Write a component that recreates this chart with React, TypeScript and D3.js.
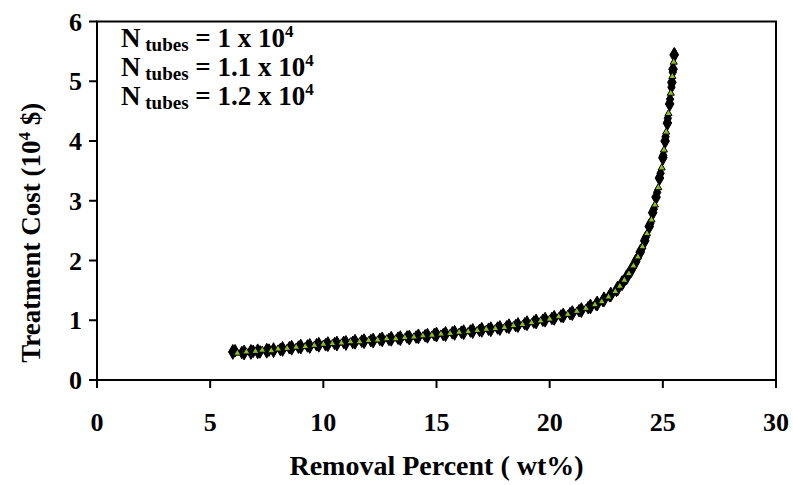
import React from "react";
import * as d3 from "d3";

const xTicks = [0, 5, 10, 15, 20, 25, 30];
const yTicks = [0, 1, 2, 3, 4, 5, 6];

const s1x = [6.0, 6.5, 6.8, 7.1, 7.5, 7.8, 8.2, 8.6, 9.0, 9.4, 9.8, 10.2, 10.6, 11.0, 11.4, 11.8, 12.2, 12.6, 13.0, 13.4, 13.8, 14.2, 14.6, 15.0, 15.4, 15.8, 16.2, 16.6, 17.0, 17.4, 17.8, 18.2, 18.6, 19.0, 19.4, 19.8, 20.2, 20.6, 21.0, 21.4, 21.8, 22.1, 22.4, 22.7, 23.0, 23.2, 23.4, 23.6, 23.8, 24.0, 24.2, 24.4, 24.55, 24.7, 24.85, 25.0, 25.1, 25.2, 25.3, 25.4, 25.45, 25.5];
const s1y = [0.47, 0.46, 0.47, 0.48, 0.49, 0.5, 0.52, 0.54, 0.56, 0.57, 0.59, 0.6, 0.61, 0.62, 0.64, 0.65, 0.66, 0.68, 0.69, 0.7, 0.71, 0.73, 0.74, 0.76, 0.77, 0.79, 0.8, 0.82, 0.84, 0.85, 0.87, 0.9, 0.92, 0.95, 0.98, 1.01, 1.04, 1.08, 1.12, 1.17, 1.23, 1.28, 1.35, 1.43, 1.53, 1.62, 1.72, 1.84, 1.98, 2.14, 2.33, 2.57, 2.8, 3.06, 3.38, 3.72, 4.0, 4.3, 4.62, 4.98, 5.2, 5.44];

const s2x = [6.2, 6.6, 7.0, 7.3, 7.7, 8.0, 8.4, 8.8, 9.2, 9.6, 10.0, 10.4, 10.8, 11.2, 11.6, 12.0, 12.4, 12.8, 13.2, 13.6, 14.0, 14.4, 14.8, 15.2, 15.6, 16.0, 16.4, 16.8, 17.2, 17.6, 18.0, 18.4, 18.8, 19.2, 19.6, 20.0, 20.4, 20.8, 21.2, 21.6, 22.0, 22.3, 22.6, 22.9, 23.1, 23.3, 23.5, 23.7, 23.9, 24.1, 24.3, 24.5, 24.65, 24.8, 24.95, 25.05, 25.15, 25.25, 25.35, 25.42, 25.48];
const s2y = [0.45, 0.47, 0.48, 0.5, 0.49, 0.52, 0.53, 0.55, 0.56, 0.58, 0.6, 0.61, 0.62, 0.64, 0.64, 0.66, 0.67, 0.69, 0.69, 0.71, 0.72, 0.74, 0.75, 0.77, 0.78, 0.8, 0.81, 0.83, 0.85, 0.86, 0.88, 0.91, 0.93, 0.96, 0.99, 1.02, 1.06, 1.1, 1.15, 1.2, 1.26, 1.31, 1.39, 1.48, 1.57, 1.67, 1.78, 1.91, 2.06, 2.23, 2.45, 2.68, 2.93, 3.22, 3.55, 3.85, 4.15, 4.46, 4.8, 5.08, 5.32];

const s3x = [6.1, 6.4, 6.9, 7.2, 7.6, 8.1, 8.5, 8.9, 9.3, 9.7, 10.1, 10.5, 10.9, 11.3, 11.7, 12.1, 12.5, 12.9, 13.3, 13.7, 14.1, 14.5, 14.9, 15.3, 15.7, 16.1, 16.5, 16.9, 17.3, 17.7, 18.1, 18.5, 18.9, 19.3, 19.7, 20.1, 20.5, 20.9, 21.3, 21.7, 22.05, 22.35, 22.65, 22.95, 23.25, 23.45, 23.65, 23.85, 24.05, 24.25, 24.45, 24.6, 24.75, 24.9, 25.02, 25.12, 25.22, 25.32, 25.38, 25.44, 25.52];
const s3y = [0.49, 0.46, 0.48, 0.47, 0.5, 0.51, 0.54, 0.55, 0.57, 0.59, 0.59, 0.61, 0.63, 0.63, 0.65, 0.66, 0.68, 0.68, 0.7, 0.72, 0.72, 0.74, 0.76, 0.76, 0.79, 0.8, 0.82, 0.83, 0.85, 0.87, 0.89, 0.91, 0.94, 0.97, 1.0, 1.03, 1.07, 1.11, 1.16, 1.21, 1.27, 1.33, 1.41, 1.5, 1.64, 1.75, 1.87, 2.02, 2.18, 2.39, 2.62, 2.86, 3.14, 3.46, 3.76, 4.07, 4.38, 4.7, 4.9, 5.15, 5.45];

const legendValues = ["1", "1.1", "1.2"];

const W = 793;
const H = 485;
const L = 97;
const R = 776;
const T = 21.5;
const B = 380;

const zip = (xs: number[], ys: number[]) =>
  xs.slice(0, Math.min(xs.length, ys.length)).map((x, i) => ({ x, y: ys[i] }));

export default function App() {
  const x = d3.scaleLinear().domain([0, 30]).range([L, R]);
  const y = d3.scaleLinear().domain([0, 6]).range([B, T]);
  const diamond = d3.symbol().type(d3.symbolDiamond).size(64)() as string;
  const tri = d3.symbol().type(d3.symbolTriangle).size(22)() as string;
  const diamondSmall = d3.symbol().type(d3.symbolDiamond).size(46)() as string;
  const font = "'Liberation Serif', 'Times New Roman', serif";

  const d1 = zip(s1x, s1y);
  const d2 = zip(s2x, s2y);
  const d3s = zip(s3x, s3y);

  return (
    <svg
      width={W}
      height={H}
      style={{ position: "absolute", left: 0, top: 0, background: "#fff" }}
      fontFamily={font}
      fontWeight="bold"
    >
      <rect x={0} y={0} width={W} height={H} fill="#fff" />
      <rect x={L} y={T} width={R - L} height={B - T} fill="none" stroke="#000" strokeWidth={2} />
      {yTicks.map((t) => (
        <g key={"y" + t}>
          <line x1={L - 8} x2={L} y1={y(t)} y2={y(t)} stroke="#000" strokeWidth={2} />
          <text x={82} y={y(t)} dy="0.35em" textAnchor="end" fontSize={26}>
            {t}
          </text>
        </g>
      ))}
      {xTicks.map((t) => (
        <g key={"x" + t}>
          <line x1={x(t)} x2={x(t)} y1={B} y2={B + 8} stroke="#000" strokeWidth={2} />
          <text x={x(t)} y={431} textAnchor="middle" fontSize={26}>
            {t}
          </text>
        </g>
      ))}
      <text x={(L + R) / 2} y={475} textAnchor="middle" fontSize={28}>
        Removal Percent ( wt%)
      </text>
      <text transform={`translate(40, ${(T + B) / 2 + 32}) rotate(-90)`} textAnchor="middle" fontSize={27}>
        Treatment Cost (10
        <tspan fontSize={17} dy={-10}>4</tspan>
        <tspan dy={10}> $)</tspan>
      </text>
      {legendValues.map((v, i) => (
        <text key={"l" + i} x={121} y={47 + i * 29} fontSize={27}>
          N
          <tspan fontSize={19} dy={4}> tubes</tspan>
          <tspan dy={-4}>{` = ${v} x 10`}</tspan>
          <tspan fontSize={17} dy={-10}>4</tspan>
        </text>
      ))}
      {d1.map((p, i) => (
        <path key={"a" + i} d={diamond} transform={`translate(${x(p.x)},${y(p.y)})`} fill="#000" stroke="#000" strokeWidth={1} />
      ))}
      {d3s.map((p, i) => (
        <path key={"c" + i} d={diamondSmall} transform={`translate(${x(p.x)},${y(p.y)})`} fill="#000" stroke="#000" strokeWidth={1} />
      ))}
      {d2.map((p, i) => (
        <path key={"b" + i} d={tri} transform={`translate(${x(p.x)},${y(p.y)})`} fill="#8fbf1f" stroke="#000" strokeWidth={1} />
      ))}
    </svg>
  );
}
